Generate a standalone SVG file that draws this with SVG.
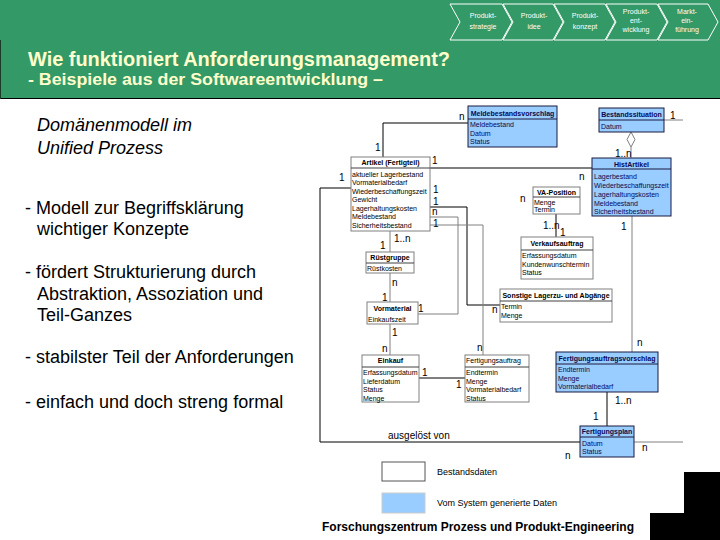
<svg xmlns="http://www.w3.org/2000/svg" width="720" height="540" viewBox="0 0 720 540">
<style>
.chev{fill:none;stroke:#fff;stroke-width:1}
.ct{font-family:"Liberation Sans",Arial,sans-serif;font-size:7px;fill:#fff;text-anchor:middle}
.title{font-family:"Liberation Sans",Arial,sans-serif;font-weight:bold;fill:#FFFFCC}
.body{font-family:"Liberation Sans",Arial,sans-serif;font-size:18px;fill:#000}
.ital{font-family:"Liberation Sans",Arial,sans-serif;font-size:18px;font-style:italic;fill:#000}
.wb{fill:#fff;stroke:#808080;stroke-width:1}
.bb{fill:#99CCFF;stroke:#1a1a40;stroke-width:1}
.sepw{stroke:#404040;stroke-width:1}
.sepb{stroke:#1a1a40;stroke-width:1}
.h{font-family:"Liberation Sans",Arial,sans-serif;font-size:7px;font-weight:bold;fill:#000;text-anchor:middle}
.hb{font-family:"Liberation Sans",Arial,sans-serif;font-size:7px;font-weight:bold;fill:#0a0a50;text-anchor:middle}
.a{font-family:"Liberation Sans",Arial,sans-serif;font-size:7px;fill:#000}
.ab{font-family:"Liberation Sans",Arial,sans-serif;font-size:7px;fill:#0a0a50}
.m{font-family:"Liberation Sans",Arial,sans-serif;font-size:10px;fill:#000}
.ln{fill:none;stroke:#000;stroke-width:1}
.lg{fill:none;stroke:#808080;stroke-width:1}
.lgd{font-family:"Liberation Sans",Arial,sans-serif;font-size:9px;fill:#000}
</style>

<g id="banner">
<rect x="0" y="0" width="720" height="99" fill="#339966"/>
<line x1="0" y1="98.5" x2="720" y2="98.5" stroke="#000" stroke-width="1"/>
<line x1="0.5" y1="40" x2="0.5" y2="99" stroke="#1a3d2a" stroke-width="1"/>
<text class="title" x="28" y="66" font-size="20" textLength="422" lengthAdjust="spacingAndGlyphs">Wie funktioniert Anforderungsmanagement?</text>
<text class="title" x="28" y="85" font-size="16.5" textLength="355" lengthAdjust="spacingAndGlyphs">- Beispiele aus der Softwareentwicklung –</text>
</g>

<g id="chevrons">
<polygon class="chev" points="450,4 502,4 512,22 502,40 450,40 460,22"/>
<polygon class="chev" points="503,4 553,4 563,22 553,40 503,40 513,22"/>
<polygon class="chev" points="554,4 605,4 615,22 605,40 554,40 564,22"/>
<polygon class="chev" points="606,4 657,4 667,22 657,40 606,40 616,22"/>
<polygon class="chev" points="658,4 708,4 718,22 708,40 658,40 668,22"/>
<text class="ct" x="483" y="18">Produkt-</text><text class="ct" x="483" y="29">strategie</text>
<text class="ct" x="534" y="18">Produkt-</text><text class="ct" x="534" y="29">idee</text>
<text class="ct" x="585" y="18">Produkt-</text><text class="ct" x="585" y="29">konzept</text>
<text class="ct" x="636" y="14">Produkt-</text><text class="ct" x="636" y="23">ent-</text><text class="ct" x="636" y="32">wicklung</text>
<text class="ct" x="687" y="14">Markt-</text><text class="ct" x="687" y="23">ein-</text><text class="ct" x="687" y="32">führung</text>
</g>

<g id="leftText">
<text class="ital" x="37" y="131">Domänenmodell im</text>
<text class="ital" x="37" y="154">Unified Prozess</text>
<text class="body" x="25" y="214">- Modell zur Begriffsklärung</text>
<text class="body" x="37" y="235">wichtiger Konzepte</text>
<text class="body" x="25" y="278">- fördert Strukturierung durch</text>
<text class="body" x="37" y="300">Abstraktion, Assoziation und</text>
<text class="body" x="37" y="321">Teil-Ganzes</text>
<text class="body" x="25" y="363">- stabilster Teil der Anforderungen</text>
<text class="body" x="25" y="408">- einfach und doch streng formal</text>
</g>

<g id="connectors">
<polyline class="ln" points="468,123 383,123 383,157"/>
<polyline class="ln" points="430,168 592,168"/>
<polyline class="ln" points="351,188 320,188 320,442 580,442"/>
<polyline class="ln" points="430,207 467,207 467,305 500,305"/>
<polyline class="lg" points="430,217 458,217 458,314 418,314" stroke-width="1.5"/>
<polyline class="lg" points="430,225 483,225 483,355"/>
<line class="lg" x1="390" y1="231" x2="390" y2="252"/>
<line class="lg" x1="390" y1="273" x2="390" y2="302"/>
<line class="lg" x1="390" y1="324" x2="390" y2="355"/>
<line class="ln" x1="419" y1="378" x2="465" y2="378"/>
<line class="ln" x1="556" y1="214" x2="556" y2="237"/>
<line class="lg" x1="631" y1="147" x2="631" y2="158"/>
<polygon points="631,132 635,139.5 631,147 627,139.5" fill="#fff" stroke="#808080" stroke-width="1"/>
<line class="lg" x1="664" y1="120" x2="683" y2="120"/>
<line class="lg" x1="632" y1="216" x2="632" y2="352"/>
<line class="ln" x1="607" y1="392" x2="607" y2="426"/>
<line class="lg" x1="634" y1="442" x2="683" y2="442"/>
</g>

<g id="multiplicities">
<text class="m" x="459" y="120">n</text>
<text class="m" x="375" y="151">1</text>
<text class="m" x="432" y="164">1</text>
<text class="m" x="579" y="180">n</text>
<text class="m" x="339" y="181">1</text>
<text class="m" x="433" y="193">1</text>
<text class="m" x="433" y="204.5">1</text>
<text class="m" x="432" y="214.5">n</text>
<text class="m" x="433" y="227">1</text>
<text class="m" x="520" y="202">n</text>
<text class="m" x="394" y="242" font-size="9">1..n</text>
<text class="m" x="380" y="249">1</text>
<text class="m" x="392" y="286">n</text>
<text class="m" x="382" y="301">1</text>
<text class="m" x="392" y="336">1</text>
<text class="m" x="382" y="352">n</text>
<text class="m" x="418" y="312">1</text>
<text class="m" x="492" y="313">n</text>
<text class="m" x="477" y="351">n</text>
<text class="m" x="422" y="376">1</text>
<text class="m" x="456" y="388">1</text>
<text class="m" x="543" y="229" font-size="9">1..n</text>
<text class="m" x="560" y="236">1</text>
<text class="m" x="615" y="157" font-size="9">1..n</text>
<text class="m" x="670" y="119">1</text>
<text class="m" x="621" y="230">1</text>
<text class="m" x="637" y="346">n</text>
<text class="m" x="615" y="404" font-size="9">1..n</text>
<text class="m" x="593" y="420">1</text>
<text class="m" x="642" y="451">n</text>
<text class="m" x="565" y="459">n</text>
<text class="m" x="388" y="439" font-size="10.5">ausgelöst von</text>
</g>

<g id="Meldebestandsvorschlag">
<rect class="bb" x="468" y="106" width="89" height="41"/>
<line class="sepb" x1="468" y1="119" x2="557" y2="119"/>
<text class="hb" x="512.5" y="115.5">Meldebestandsvorschlag</text>
<text class="ab" x="470" y="127">Meldebestand</text>
<text class="ab" x="470" y="135.5">Datum</text>
<text class="ab" x="470" y="144">Status</text>
</g>

<g id="Bestandssituation">
<rect class="bb" x="599" y="108" width="65" height="24"/>
<line class="sepb" x1="599" y1="120" x2="664" y2="120"/>
<text class="hb" x="631.5" y="117">Bestandssituation</text>
<text class="ab" x="601" y="128.5">Datum</text>
</g>

<g id="Artikel">
<rect class="wb" x="351" y="157" width="79" height="74"/>
<line class="sepw" x1="351" y1="168" x2="430" y2="168"/>
<text class="h" x="390.5" y="165">Artikel (Fertigteil)</text>
<text class="a" x="352" y="176.5">aktueller Lagerbestand</text>
<text class="a" x="352" y="185">Vormaterialbedarf</text>
<text class="a" x="352" y="193.5">Wiederbeschaffungszeit</text>
<text class="a" x="352" y="202">Gewicht</text>
<text class="a" x="352" y="210.5">Lagerhaltungskosten</text>
<text class="a" x="352" y="219">Meldebestand</text>
<text class="a" x="352" y="227.5">Sicherheitsbestand</text>
</g>

<g id="HistArtikel">
<rect class="bb" x="592" y="158" width="79" height="58"/>
<line class="sepb" x1="592" y1="169" x2="671" y2="169"/>
<text class="hb" x="631.5" y="166.5">HistArtikel</text>
<text class="ab" x="594" y="178.5">Lagerbestand</text>
<text class="ab" x="594" y="187.5">Wiederbeschaffungszeit</text>
<text class="ab" x="594" y="196.5">Lagerhaltungskosten</text>
<text class="ab" x="594" y="205.5">Meldebestand</text>
<text class="ab" x="594" y="214">Sicherheitsbestand</text>
</g>

<g id="VA-Position">
<rect class="wb" x="533" y="187" width="47" height="27"/>
<line class="sepw" x1="533" y1="197" x2="580" y2="197"/>
<text class="h" x="556.5" y="194.5">VA-Position</text>
<text class="a" x="534" y="205">Menge</text>
<text class="a" x="534" y="212">Termin</text>
</g>

<g id="Verkaufsauftrag">
<rect class="wb" x="521" y="237" width="72" height="42"/>
<line class="sepw" x1="521" y1="250" x2="593" y2="250"/>
<text class="h" x="557" y="246">Verkaufsauftrag</text>
<text class="a" x="522" y="258">Erfassungsdatum</text>
<text class="a" x="522" y="266.5">Kundenwunschtermin</text>
<text class="a" x="522" y="275">Status</text>
</g>

<g id="Sonstige">
<rect class="wb" x="500" y="289" width="112" height="33"/>
<line class="sepw" x1="500" y1="301" x2="612" y2="301"/>
<text class="h" x="556" y="297.5">Sonstige Lagerzu- und Abgänge</text>
<text class="a" x="501" y="309">Termin</text>
<text class="a" x="501" y="317.5">Menge</text>
</g>

<g id="Ruestgruppe">
<rect class="wb" x="366" y="252" width="48" height="21"/>
<line class="sepw" x1="366" y1="263" x2="414" y2="263"/>
<text class="h" x="390" y="260">Rüstgruppe</text>
<text class="a" x="367" y="270.5">Rüstkosten</text>
</g>

<g id="Vormaterial">
<rect class="wb" x="367" y="302" width="51" height="22"/>
<text class="h" x="392.5" y="310.5">Vormaterial</text>
<text class="a" x="368" y="321.5">Einkaufszeit</text>
</g>

<g id="Einkauf">
<rect class="wb" x="362" y="355" width="57" height="47"/>
<line class="sepw" x1="362" y1="367" x2="419" y2="367"/>
<text class="h" x="390.5" y="362.5">Einkauf</text>
<text class="a" x="363" y="375">Erfassungsdatum</text>
<text class="a" x="363" y="383.5">Lieferdatum</text>
<text class="a" x="363" y="392">Status</text>
<text class="a" x="363" y="400.5">Menge</text>
</g>

<g id="Fertigungsauftrag">
<rect class="wb" x="465" y="355" width="64" height="47"/>
<line class="sepw" x1="465" y1="367" x2="529" y2="367"/>
<text class="a" x="466" y="362.5">Fertigungsauftrag</text>
<text class="a" x="466" y="375">Endtermin</text>
<text class="a" x="466" y="383.5">Menge</text>
<text class="a" x="466" y="392">Vormaterialbedarf</text>
<text class="a" x="466" y="400.5">Status</text>
</g>

<g id="Fertigungsauftragsvorschlag">
<rect class="bb" x="556" y="352" width="102" height="40"/>
<line class="sepb" x1="556" y1="364" x2="658" y2="364"/>
<text class="hb" x="607" y="360.5">Fertigungsauftragsvorschlag</text>
<text class="ab" x="558" y="372">Endtermin</text>
<text class="ab" x="558" y="380.5">Menge</text>
<text class="ab" x="558" y="389">Vormaterialbedarf</text>
</g>

<g id="Fertigungsplan">
<rect class="bb" x="580" y="426" width="54" height="31"/>
<line class="sepb" x1="580" y1="437" x2="634" y2="437"/>
<text class="hb" x="607" y="434">Fertigungsplan</text>
<text class="ab" x="582" y="445.5">Datum</text>
<text class="ab" x="582" y="454">Status</text>
</g>

<g id="legend">
<rect x="382" y="462" width="43" height="19" fill="#fff" stroke="#555" stroke-width="1"/>
<text class="lgd" x="437" y="475">Bestandsdaten</text>
<rect x="382" y="493" width="43" height="20" fill="#99CCFF" stroke="#ccc" stroke-width="1"/>
<text class="lgd" x="437" y="506">Vom System generierte Daten</text>
</g>

<g id="footer">
<text x="322" y="531" font-family="Liberation Sans,Arial,sans-serif" font-size="12" font-weight="bold" fill="#000">Forschungszentrum Prozess und Produkt-Engineering</text>
<rect x="684" y="472" width="36" height="68" fill="#000"/>
<rect x="650" y="513" width="70" height="27" fill="#000"/>
</g>
</svg>
